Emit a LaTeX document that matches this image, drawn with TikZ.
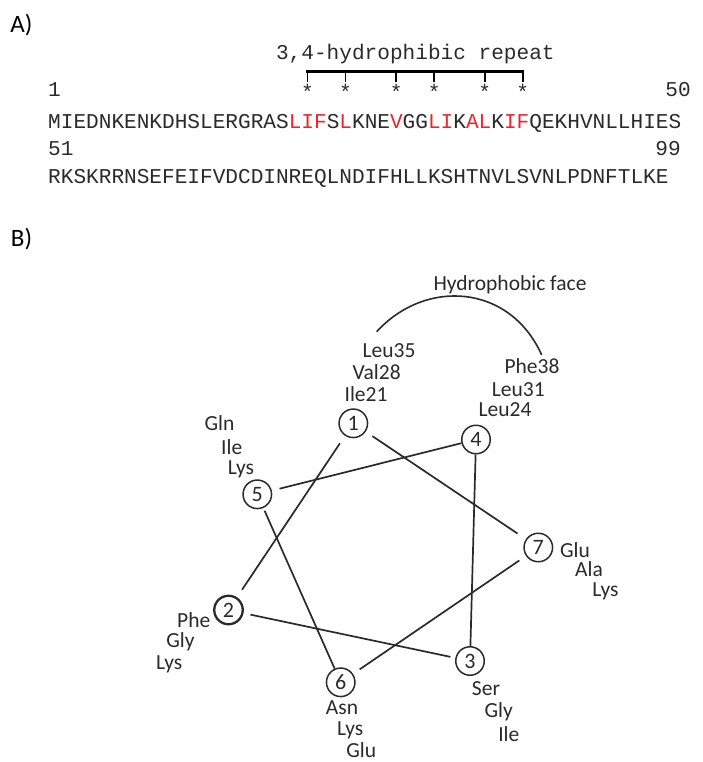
\documentclass[tikz,border=0pt]{standalone}
\usepackage{fontspec}
\setmainfont{Carlito}
\newfontfamily\seqfont{Liberation Mono}
\definecolor{ink}{HTML}{2A2A2A}
\definecolor{hired}{HTML}{E8262B}
\begin{document}
\begin{tikzpicture}[x=1pt,y=-1pt,
  panel/.style={font=\fontsize{25}{30}\selectfont, text=black, inner sep=0},
  seq/.style={font=\seqfont\fontsize{21.1}{24}\selectfont, text=ink, inner sep=0, anchor=base west},
  seqr/.style={seq, anchor=base east},
  star/.style={font=\seqfont\fontsize{21.1}{24}\selectfont, text=ink, inner sep=0, anchor=base},
  bracket/.style={draw=black, line width=2.4pt},
  tick/.style={draw=black, line width=1.8pt},
  res/.style={font=\fontsize{21.5}{24}\selectfont, text=ink, inner sep=0, anchor=mid},
  wheel/.style={circle, draw=ink, line width=1.5pt, minimum size=28.5pt, inner sep=0,
                font=\fontsize{22}{24}\selectfont, text=ink},
  link/.style={draw=ink, line width=1.7pt},
  face/.style={draw=ink, line width=1.6pt}
]
\useasboundingbox (0,0) rectangle (702,762);

% ---------- A) sequence ----------
\def\xo{48}
\def\cw{12.66}
\node[panel] (pa) at (21.5,25) {A)};
\node[seq] (rep) at ({\xo+18*\cw},60) {3,4-hydrophibic repeat};
\node[seq] (n1) at (\xo,97) {1};
\node[seqr] (n50) at (691,97) {50};
\foreach \i/\nm in {21/s1,24/s2,28/s3,31/s4,35/s5,38/s6}{
  \node[star] (\nm) at ({\xo+(\i-0.5)*\cw},100) {*};
  \coordinate (\nm t) at ({\xo+(\i-0.5)*\cw},71.5);
  \coordinate (\nm b) at ({\xo+(\i-0.5)*\cw},82.5);
  \draw[tick] (\nm t) -- (\nm b);
}
\draw[bracket, line cap=rect] (s1t) -- (s6t);
\node[seq] (seq1) at (\xo,129) {MIEDNKENKDHSLERGRAS\textcolor{hired}{LIF}S\textcolor{hired}{L}KNE\textcolor{hired}{V}GG\textcolor{hired}{LI}K\textcolor{hired}{AL}K\textcolor{hired}{IF}QEKHVNLLHIES};
\node[seq] (n51) at (\xo,156) {51};
\node[seqr] (n99) at ({\xo+50*\cw},156) {99};
\node[seq] (seq2) at (\xo,183) {RKSKRRNSEFEIFVDCDINREQLNDIFHLLKSHTNVLSVNLPDNFTLKE};

% ---------- B) helical wheel ----------
\node[panel] (pb) at (21.5,239) {B)};
\node[res, anchor=center] (hf) at (510,285) {Hydrophobic face};
\coordinate (hfl) at (376.7,331.7);
\coordinate (hfr) at (541.7,355);
\draw[face] (hfl) .. controls (424.7,278.9) and (509.3,283) .. (hfr);

\node[wheel] (c1) at (353.3,423.3) {1};
\node[wheel, line width=2.3pt] (c2) at (228.5,610) {2};
\node[wheel] (c3) at (470,661) {3};
\node[wheel] (c4) at (476,439.5) {4};
\node[wheel] (c5) at (257.3,494.3) {5};
\node[wheel] (c6) at (340.7,682.3) {6};
\node[wheel] (c7) at (538.3,547.5) {7};

\draw[link, shorten <=9pt, shorten >=9pt] (c1) -- (c2);
\draw[link, shorten <=8pt, shorten >=10pt] (c1) -- (c7);
\draw[link, shorten >=8pt] (c4) -- (c5);
\draw[link] (c4) -- (c3);
\draw[link, shorten <=3pt] (c5) -- (c6);
\draw[link, shorten <=8pt, shorten >=8pt] (c6) -- (c7);
\draw[link, shorten <=7pt, shorten >=5pt] (c2) -- (c3);

% residues on each position
\node[res] (r35) at (389,355) {Leu35};
\node[res] (r28) at (376.7,377) {Val28};
\node[res] (r21) at (366,399.3) {Ile21};
\node[res] (r38) at (532,371.3) {Phe38};
\node[res] (r31) at (518.3,393.7) {Leu31};
\node[res] (r24) at (505,413.7) {Leu24};
\node[res] (q5a) at (219.5,428) {Gln};
\node[res] (q5b) at (231.7,452) {Ile};
\node[res] (q5c) at (241,472) {Lys};
\node[res] (q7a) at (575,555.3) {Glu};
\node[res] (q7b) at (589,574.3) {Ala};
\node[res] (q7c) at (605.5,593.7) {Lys};
\node[res] (q2a) at (193.7,624.7) {Phe};
\node[res] (q2b) at (180.5,645.3) {Gly};
\node[res] (q2c) at (169.3,667) {Lys};
\node[res] (q6a) at (342,712.5) {Asn};
\node[res] (q6b) at (350.3,733.3) {Lys};
\node[res] (q6c) at (361.3,755.5) {Glu};
\node[res] (q3a) at (486,693) {Ser};
\node[res] (q3b) at (498.7,715.3) {Gly};
\node[res] (q3c) at (508.8,739.3) {Ile};
\end{tikzpicture}
\end{document}
